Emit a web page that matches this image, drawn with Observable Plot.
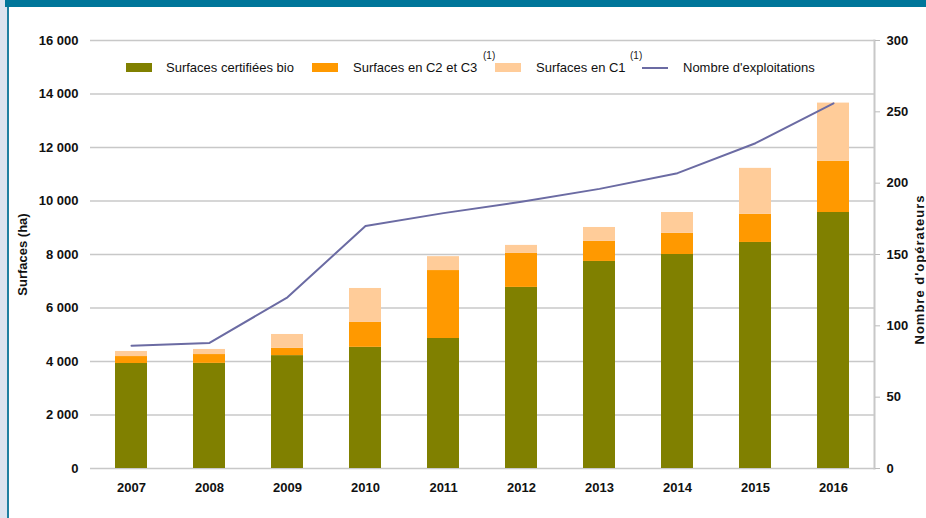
<!DOCTYPE html>
<html>
<head>
<meta charset="utf-8">
<script src="https://cdn.jsdelivr.net/npm/d3@7"></script>
<script src="https://cdn.jsdelivr.net/npm/@observablehq/plot@0.6"></script>
<style>
  html, body { margin: 0; padding: 0; background: #fff; }
  #wrap { position: relative; width: 926px; height: 518px; overflow: hidden; font-family: "Liberation Sans", Arial, sans-serif; }
  #wrap svg { position: absolute; left: 0; top: 0; }
  .abs { position: absolute; }
  .sw { position: absolute; height: 9px; width: 26px; }
  .lt { position: absolute; font-size: 13px; color: #111; white-space: nowrap; line-height: 1; }
  .sup { position: absolute; font-size: 10px; color: #222; line-height: 1; }
</style>
</head>
<body>
<div id="wrap"></div>
<script>
const years = ["2007","2008","2009","2010","2011","2012","2013","2014","2015","2016"];
const bio   = [3925, 3930, 4220, 4530, 4860, 6770, 7740, 8000, 8450, 9570];
const c2c3  = [ 260,  330,  270,  930, 2540, 1270,  750,  790, 1050, 1920];
const c1    = [ 190,  190,  520, 1270,  520,  300,  520,  780, 1720, 2170];
const exploitations = [86, 88, 120, 170, 179, 187, 196, 207, 228, 256];
const leftTicks  = [0, 2000, 4000, 6000, 8000, 10000, 12000, 14000, 16000];
const rightTicks = [0, 50, 100, 150, 200, 250, 300];
const seriesNames = ["Surfaces certifiées bio", "Surfaces en C2 et C3", "Surfaces en C1"];
const seriesColors = ["#808000", "#FF9900", "#FFCC99"];
const lineName = "Nombre d'exploitations";
const lineColor = "#6b6ba3";
const leftTitle = "Surfaces (ha)";
const rightTitle = "Nombre d'opérateurs";

const yMax = 16000, rMax = 300;
const toLeft = v => v * yMax / rMax;

const rows = [];
years.forEach((y, i) => {
  rows.push({year: y, serie: seriesNames[0], value: bio[i]});
  rows.push({year: y, serie: seriesNames[1], value: c2c3[i]});
  rows.push({year: y, serie: seriesNames[2], value: c1[i]});
});
const lineRows = years.map((y, i) => ({year: y, n: exploitations[i]}));

const fr = d3.formatLocale({decimal: ",", thousands: " ", grouping: [3], currency: ["", " €"]}).format(",");

const chart = Plot.plot({
  width: 926,
  height: 518,
  marginLeft: 90,
  marginRight: 52,
  marginTop: 40,
  marginBottom: 50,
  style: {fontFamily: "'Liberation Sans', Arial, sans-serif", fontSize: "13px", background: "transparent"},
  x: {domain: years, paddingInner: 0.59, paddingOuter: 0.295, axis: null, label: null},
  y: {domain: [0, yMax], axis: null, label: null},
  color: {domain: seriesNames, range: seriesColors},
  marks: [
    Plot.gridY(leftTicks, {stroke: "#c8c8c8", strokeOpacity: 1, strokeWidth: 1.5}),
    Plot.frame({anchor: "right", stroke: "#c8c8c8", strokeWidth: 2}),
    Plot.barY(rows, {x: "year", y: "value", fill: "serie", z: "serie", order: seriesNames}),
    Plot.line(lineRows, {x: "year", y: d => toLeft(d.n), stroke: lineColor, strokeWidth: 2}),
    Plot.axisX({anchor: "bottom", tickSize: 0, tickPadding: 14, fontWeight: "bold", fontSize: 13, fill: "#111", label: null}),
    Plot.axisY(leftTicks, {anchor: "left", tickSize: 0, tickPadding: 12, tickFormat: fr, fontWeight: "bold", fontSize: 13, fill: "#111", label: null}),
    Plot.axisY(rightTicks.map(toLeft), {anchor: "right", tickSize: 5, tickPadding: 7, stroke: "#bbbbbb", fill: "#111",
      tickFormat: d => String(Math.round(d * rMax / yMax)), fontWeight: "bold", fontSize: 13, label: null}),
    Plot.text([leftTitle], {frameAnchor: "left", textAnchor: "middle", text: d => d, rotate: -90, dx: -68, fontWeight: "bold", fontSize: 13, fill: "#111"}),
    Plot.text([rightTitle], {frameAnchor: "right", textAnchor: "middle", text: d => d, rotate: -90, dx: 45, dy: 15, fontWeight: "bold", fontSize: 13, fill: "#111"})
  ]
});

const wrap = document.getElementById("wrap");
wrap.appendChild(chart);
d3.select(chart).selectAll("text").filter(function() { return this.textContent === rightTitle; }).attr("letter-spacing", "1px");

// decorative frame: left pale strip and top title band
const strip = document.createElement("div");
strip.className = "abs";
strip.style.cssText = "left:0;top:0;width:7px;height:518px;background:#dbe3ef;border-right:2px solid #1f7fa1;";
wrap.appendChild(strip);
const band = document.createElement("div");
band.className = "abs";
band.style.cssText = "left:5px;top:0;width:921px;height:7px;background:#00769a;";
wrap.appendChild(band);

// legend
function add(cls, css, text) {
  const el = document.createElement("div");
  el.className = cls;
  el.style.cssText = css;
  if (text != null) el.textContent = text;
  wrap.appendChild(el);
}
const swX = [126, 312, 495];
const txX = [166, 353, 536];
seriesNames.forEach((s, i) => {
  add("sw", `left:${swX[i]}px;top:63px;background:${seriesColors[i]};`);
  add("lt", `left:${txX[i]}px;top:61px;`, s);
});
add("sup", "left:483px;top:51px;", "(1)");
add("sup", "left:630px;top:51px;", "(1)");
add("abs", `left:642px;top:67px;width:26px;height:2px;background:${lineColor};`);
add("lt", "left:683px;top:61px;", lineName);
</script>
</body>
</html>
